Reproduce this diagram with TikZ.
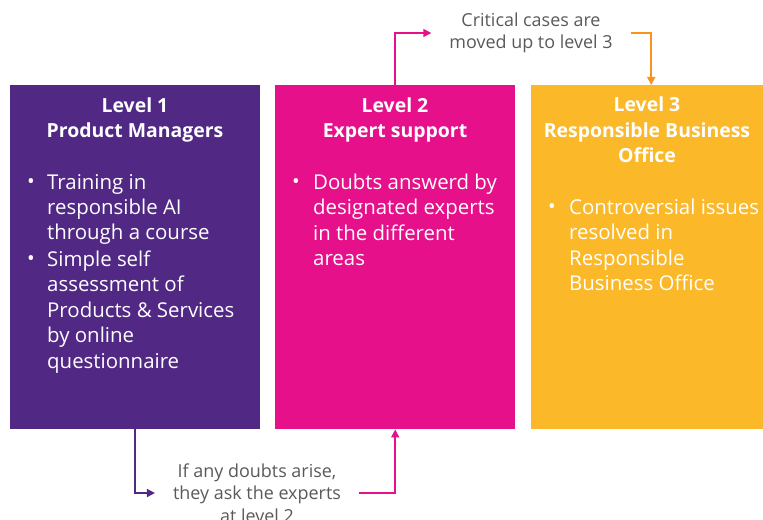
\documentclass[tikz,border=0pt]{standalone}
\usepackage{fontspec}
\setmainfont{Open Sans}
\usepackage{tikz}
\usetikzlibrary{positioning,arrows.meta}
\definecolor{lvlpurple}{HTML}{512884}
\definecolor{lvlmagenta}{HTML}{E5108A}
\definecolor{lvlyellow}{HTML}{FBB829}
\definecolor{lvlorange}{HTML}{F7931E}
\definecolor{notegray}{HTML}{595959}

\begin{document}
\begin{tikzpicture}[x=1bp,y=-1bp,
    box/.style={minimum width=#1,minimum height=344bp,anchor=north west,inner sep=0pt},
    title/.style={text=white,font=\fontsize{19.5}{26}\selectfont\bfseries,align=center,anchor=base,inner sep=0pt},
    item/.style={text=white,font=\fontsize{20.5}{25.5}\selectfont,align=left,anchor=base west,inner sep=0pt},
    note/.style={text=notegray,font=\fontsize{18}{22.5}\selectfont,align=center,inner xsep=18bp,inner ysep=0pt},
    link/.style={line width=1.5bp,-{Triangle[length=8bp,width=8bp]}}]
    \useasboundingbox (0,0) rectangle (763,520);
    % the three levels
    \node[box=250bp,fill=lvlpurple] (lvl1) at (10,85) {};
    \node[box=240bp,fill=lvlmagenta] (lvl2) at (275,85) {};
    \node[box=232bp,fill=lvlyellow] (lvl3) at (531,85) {};
    % titles (anchored on their last line)
    \node[title] (t1) at (135,138) {Level 1\\Product Managers};
    \node[title] (t2) at (395,138) {Level 2\\Expert support};
    \node[title] (t3) at (647,163) {Level 3\\Responsible Business\\Office};
    % bullets
    \node[item] (b1a) at (27,189) {\textbullet};
    \node[item] (i1a) at (47,240) {Training in\\responsible AI\\through a course};
    \node[item] (b1b) at (27,266) {\textbullet};
    \node[item] (i1b) at (47,368) {Simple self\\assessment of\\Products \& Services\\by online\\questionnaire};
    \node[item] (b2) at (292,189) {\textbullet};
    \node[item] (i2) at (313,265.5) {Doubts answerd by\\designated experts\\in the different\\areas};
    \node[item] (b3) at (548,214) {\textbullet};
    \node[item] (i3) at (569,290.5) {Controversial issues\\resolved in\\Responsible\\Business Office};
    % notes and connectors
    \node[note] (up) at (531,33) {Critical cases are\\moved up to level 3};
    \node[note] (ask) at (257,493) {If any doubts arise,\\they ask the experts\\at level 2};
    \draw[link,lvlmagenta] (lvl2.north) |- (up.west);
    \draw[link,lvlorange] (up.east) -| ([xshift=4bp]lvl3.north);
    \draw[link,lvlpurple] (lvl1.south) |- (ask.west);
    \draw[link,lvlmagenta] (ask.east) -| (lvl2.south);
\end{tikzpicture}
\end{document}
